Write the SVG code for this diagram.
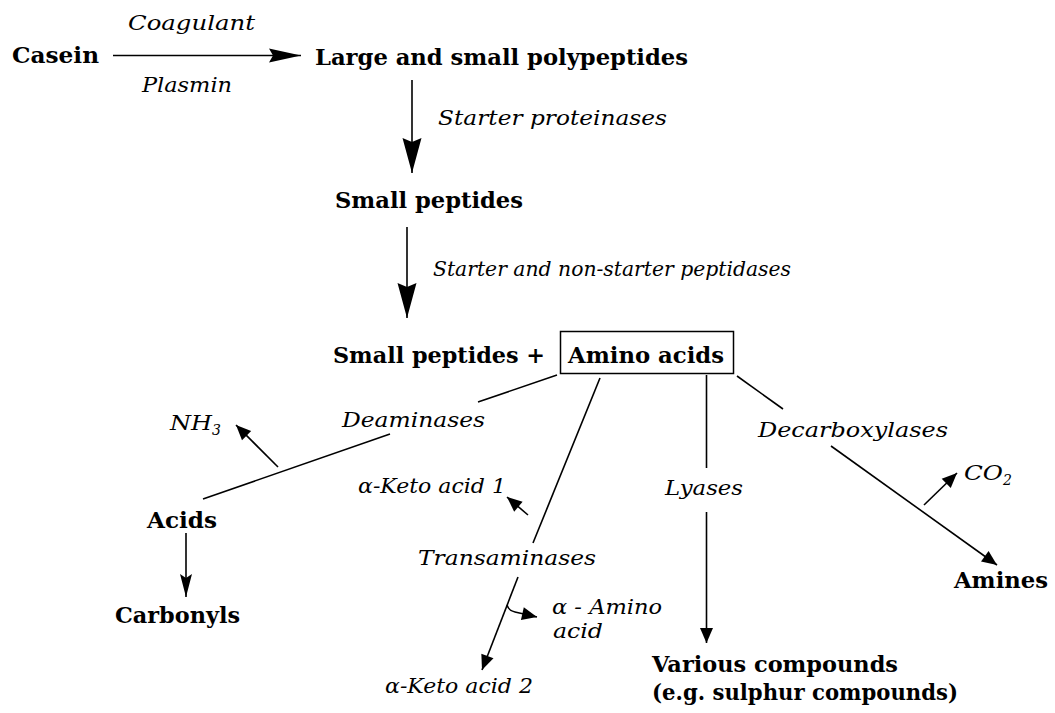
<svg xmlns="http://www.w3.org/2000/svg" width="1055" height="713" viewBox="0 0 1055 713">
<defs>
<style>
.b{font-family:"DejaVu Serif","Liberation Serif",serif;font-weight:bold;font-size:23px;fill:#000}
.i{font-family:"DejaVu Serif","Liberation Serif",serif;font-style:italic;font-size:21px;fill:#000}
.s{font-size:14px}
.ln{stroke:#000;stroke-width:1.6;fill:none}
</style>
<marker id="big" markerUnits="userSpaceOnUse" orient="auto" markerWidth="40" markerHeight="24" refX="0" refY="0" viewBox="-36 -12 38 24" overflow="visible">
<path d="M0,0 L-35,-9.5 L-31,0 L-35,9.5 Z" fill="#000"/>
</marker>
<marker id="hor" markerUnits="userSpaceOnUse" orient="auto" markerWidth="40" markerHeight="20" refX="0" refY="0" viewBox="-34 -10 36 20" overflow="visible">
<path d="M0,0 L-32,-7 L-28,0 L-32,7 Z" fill="#000"/>
</marker>
<marker id="mid" markerUnits="userSpaceOnUse" orient="auto" markerWidth="30" markerHeight="16" refX="0" refY="0" viewBox="-24 -8 26 16" overflow="visible">
<path d="M0,0 L-23,-6 L-19,0 L-23,6 Z" fill="#000"/>
</marker>
<marker id="tri" markerUnits="userSpaceOnUse" orient="auto" markerWidth="20" markerHeight="16" refX="0" refY="0" viewBox="-16 -8 18 16" overflow="visible">
<path d="M0,0 L-15,-6.5 L-15,6.5 Z" fill="#000"/>
</marker>
</defs>
<rect width="1055" height="713" fill="#fff"/>

<g id="connectors">
<line class="ln" x1="113" y1="55.5" x2="301" y2="55.5" marker-end="url(#hor)"/>
<line class="ln" x1="412" y1="80" x2="412" y2="173" marker-end="url(#big)"/>
<line class="ln" x1="407" y1="227" x2="407" y2="318" marker-end="url(#big)"/>
<line class="ln" x1="557" y1="375" x2="478" y2="402"/>
<line class="ln" x1="390" y1="434" x2="203" y2="499"/>
<line class="ln" x1="278" y1="467" x2="236" y2="425" marker-end="url(#tri)"/>
<line class="ln" x1="186" y1="533" x2="186" y2="597" marker-end="url(#mid)"/>
<line class="ln" x1="600" y1="378" x2="533" y2="543"/>
<line class="ln" x1="528" y1="515" x2="507" y2="497" marker-end="url(#tri)"/>
<line class="ln" x1="518" y1="577" x2="482" y2="670" marker-end="url(#tri)"/>
<path class="ln" d="M507,605 Q509,611 515,612 L537,617" marker-end="url(#tri)"/>
<line class="ln" x1="706.5" y1="375" x2="706.5" y2="468"/>
<line class="ln" x1="706.5" y1="512" x2="706.5" y2="643" marker-end="url(#tri)"/>
<line class="ln" x1="737" y1="376" x2="783" y2="409"/>
<line class="ln" x1="831" y1="446" x2="997" y2="565" marker-end="url(#tri)"/>
<line class="ln" x1="924" y1="505" x2="957" y2="473" marker-end="url(#tri)"/>
</g>

<g id="casein"><text class="b" x="12" y="63" textLength="87" lengthAdjust="spacingAndGlyphs">Casein</text></g>
<g id="coagulant"><text class="i" x="128" y="30" textLength="127" lengthAdjust="spacingAndGlyphs">Coagulant</text></g>
<g id="plasmin"><text class="i" x="142" y="92" textLength="90" lengthAdjust="spacingAndGlyphs">Plasmin</text></g>
<g id="polypeptides"><text class="b" x="315" y="65" textLength="373" lengthAdjust="spacingAndGlyphs">Large and small polypeptides</text></g>
<g id="starter-proteinases"><text class="i" x="438" y="125" textLength="229" lengthAdjust="spacingAndGlyphs">Starter proteinases</text></g>
<g id="small-peptides"><text class="b" x="335" y="208" textLength="188" lengthAdjust="spacingAndGlyphs">Small peptides</text></g>
<g id="peptidases"><text class="i" x="433" y="276" textLength="358" lengthAdjust="spacingAndGlyphs">Starter and non-starter peptidases</text></g>
<g id="small-peptides-plus"><text class="b" x="333" y="363" textLength="212" lengthAdjust="spacingAndGlyphs">Small peptides +</text></g>
<g id="amino-acids">
<rect x="560.5" y="331.5" width="173" height="42" fill="none" stroke="#000" stroke-width="1.5"/>
<text class="b" x="568" y="363" textLength="156" lengthAdjust="spacingAndGlyphs">Amino acids</text>
</g>
<g id="deaminases"><text class="i" x="342" y="427" textLength="143" lengthAdjust="spacingAndGlyphs">Deaminases</text></g>
<g id="nh3"><text class="i" x="170" y="430"><tspan textLength="42" lengthAdjust="spacingAndGlyphs">NH</tspan><tspan class="s" dy="5">3</tspan></text></g>
<g id="acids"><text class="b" x="147" y="528" textLength="70" lengthAdjust="spacingAndGlyphs">Acids</text></g>
<g id="carbonyls"><text class="b" x="115" y="623" textLength="125" lengthAdjust="spacingAndGlyphs">Carbonyls</text></g>
<g id="keto1"><text class="i" x="358" y="493" textLength="148" lengthAdjust="spacingAndGlyphs">α-Keto acid 1</text></g>
<g id="transaminases"><text class="i" x="418" y="565" textLength="178" lengthAdjust="spacingAndGlyphs">Transaminases</text></g>
<g id="alpha-amino"><text class="i" x="552" y="614" textLength="110" lengthAdjust="spacingAndGlyphs">α - Amino</text><text class="i" x="553" y="638" textLength="50" lengthAdjust="spacingAndGlyphs">acid</text></g>
<g id="keto2"><text class="i" x="385" y="693" textLength="148" lengthAdjust="spacingAndGlyphs">α-Keto acid 2</text></g>
<g id="lyases"><text class="i" x="665" y="495" textLength="78" lengthAdjust="spacingAndGlyphs">Lyases</text></g>
<g id="various"><text class="b" x="652" y="672" textLength="246" lengthAdjust="spacingAndGlyphs">Various compounds</text><text class="b" x="652" y="700" textLength="306" lengthAdjust="spacingAndGlyphs">(e.g. sulphur compounds)</text></g>
<g id="decarboxylases"><text class="i" x="758" y="437" textLength="190" lengthAdjust="spacingAndGlyphs">Decarboxylases</text></g>
<g id="co2"><text class="i" x="964" y="480"><tspan textLength="39" lengthAdjust="spacingAndGlyphs">CO</tspan><tspan class="s" dy="5">2</tspan></text></g>
<g id="amines"><text class="b" x="954" y="588" textLength="94" lengthAdjust="spacingAndGlyphs">Amines</text></g>
</svg>
